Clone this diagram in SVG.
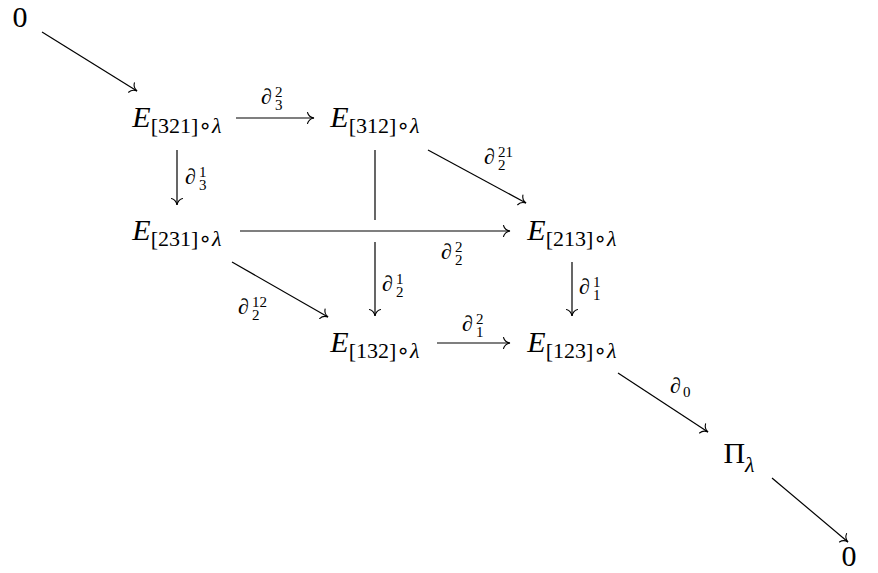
<svg xmlns="http://www.w3.org/2000/svg" width="878" height="573" viewBox="0 0 878 573">
<style>
  text { font-family: "Liberation Serif", "DejaVu Serif", serif; fill: #000; }
  .node { font-size: 30px; text-anchor: middle; }
  .it { font-style: italic; }
  .sub { font-size: 22px; }
  .ring { font-family: "DejaVu Sans", sans-serif; font-size: 22px; }
  .lab { font-size: 15px; }
  .d { font-size: 22px; font-style: italic; }
  .edge { stroke: #000; stroke-width: 1.2; fill: none; }
  .arr { marker-end: url(#to); }
</style>
<defs>
  <marker id="to" markerUnits="userSpaceOnUse" viewBox="-8 -7 10 14" refX="0" refY="0" markerWidth="10" markerHeight="14" orient="auto" overflow="visible">
    <path d="M -6.5,-5.5 C -5.6,-2.4 -3,-0.5 0,0 C -3,0.5 -5.6,2.4 -6.5,5.5" fill="none" stroke="#000" stroke-width="1.1" stroke-linecap="round"/>
  </marker>
</defs>

<g id="connectors">
  <line class="edge arr" x1="42" y1="32" x2="137" y2="91"/>
  <line class="edge arr" x1="236" y1="118" x2="314" y2="118"/>
  <line class="edge arr" x1="177" y1="150" x2="177" y2="205"/>
  <line class="edge" x1="375" y1="150" x2="375" y2="220"/>
  <line class="edge arr" x1="375" y1="242" x2="375" y2="316"/>
  <line class="edge arr" x1="428" y1="150" x2="526" y2="203"/>
  <line class="edge arr" x1="240" y1="231" x2="510" y2="231"/>
  <line class="edge arr" x1="232" y1="262" x2="328" y2="317"/>
  <line class="edge arr" x1="572" y1="262" x2="572" y2="316"/>
  <line class="edge arr" x1="437" y1="343" x2="510" y2="343"/>
  <line class="edge arr" x1="618" y1="373" x2="708" y2="432"/>
  <line class="edge arr" x1="772" y1="478" x2="848" y2="542"/>
</g>

<g id="edge-labels">
  <text id="l32" class="lab"><tspan class="d" x="261" y="104">∂</tspan><tspan x="275" y="97">2</tspan><tspan x="275" y="110">3</tspan></text>
  <text id="l31" class="lab"><tspan class="d" x="185" y="184">∂</tspan><tspan x="199" y="177">1</tspan><tspan x="199" y="190">3</tspan></text>
  <text id="l221" class="lab"><tspan class="d" x="484" y="164">∂</tspan><tspan x="498" y="157">21</tspan><tspan x="498" y="170">2</tspan></text>
  <text id="l22" class="lab"><tspan class="d" x="441" y="259">∂</tspan><tspan x="455" y="252">2</tspan><tspan x="455" y="265">2</tspan></text>
  <text id="l21" class="lab"><tspan class="d" x="382" y="291">∂</tspan><tspan x="396" y="284">1</tspan><tspan x="396" y="297">2</tspan></text>
  <text id="l212" class="lab"><tspan class="d" x="238" y="314">∂</tspan><tspan x="252" y="307">12</tspan><tspan x="252" y="320">2</tspan></text>
  <text id="l11" class="lab"><tspan class="d" x="579" y="294">∂</tspan><tspan x="593" y="287">1</tspan><tspan x="593" y="300">1</tspan></text>
  <text id="l12" class="lab"><tspan class="d" x="462" y="331">∂</tspan><tspan x="476" y="324">2</tspan><tspan x="476" y="337">1</tspan></text>
  <text id="l0" class="lab"><tspan class="d" x="670" y="393">∂</tspan><tspan x="683" y="397">0</tspan></text>
</g>

<g id="zero-start"><text class="node" x="20" y="27">0</text></g>
<g id="E321"><text class="node" x="177" y="127"><tspan class="it">E</tspan><tspan class="sub" dy="6">[321]</tspan><tspan class="ring">∘</tspan><tspan class="sub it">λ</tspan></text></g>
<g id="E312"><text class="node" x="375" y="127"><tspan class="it">E</tspan><tspan class="sub" dy="6">[312]</tspan><tspan class="ring">∘</tspan><tspan class="sub it">λ</tspan></text></g>
<g id="E231"><text class="node" x="177" y="240"><tspan class="it">E</tspan><tspan class="sub" dy="6">[231]</tspan><tspan class="ring">∘</tspan><tspan class="sub it">λ</tspan></text></g>
<g id="E213"><text class="node" x="572" y="240"><tspan class="it">E</tspan><tspan class="sub" dy="6">[213]</tspan><tspan class="ring">∘</tspan><tspan class="sub it">λ</tspan></text></g>
<g id="E132"><text class="node" x="375" y="352"><tspan class="it">E</tspan><tspan class="sub" dy="6">[132]</tspan><tspan class="ring">∘</tspan><tspan class="sub it">λ</tspan></text></g>
<g id="E123"><text class="node" x="572" y="352"><tspan class="it">E</tspan><tspan class="sub" dy="6">[123]</tspan><tspan class="ring">∘</tspan><tspan class="sub it">λ</tspan></text></g>
<g id="Pi"><text class="node" x="739" y="463">Π<tspan class="sub it" dy="9">λ</tspan></text></g>
<g id="zero-end"><text class="node" x="849" y="566">0</text></g>
</svg>
